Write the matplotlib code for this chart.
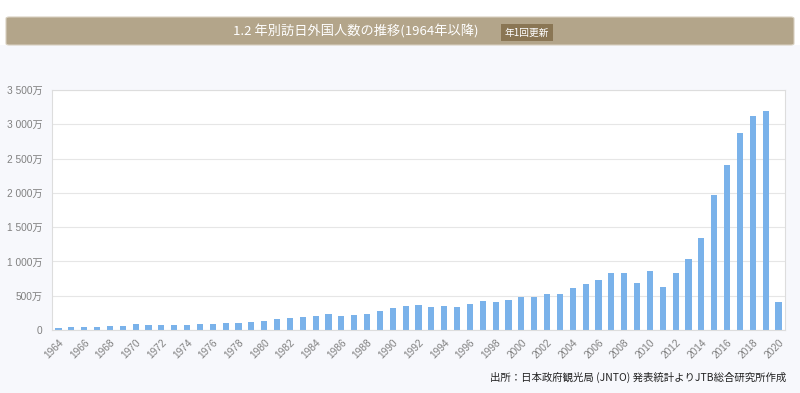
import matplotlib.pyplot as plt
from matplotlib.patches import FancyBboxPatch, Rectangle
from matplotlib.ticker import FuncFormatter, MultipleLocator

plt.rcParams['font.family'] = ['Noto Sans CJK JP', 'DejaVu Sans']

# visitor arrivals to Japan, in 万人
years = list(range(1964, 2021))
visitors = [35.3, 36.7, 43.3, 47.7, 51.9, 60.9, 85.4, 66.0, 72.4, 78.5,
            76.4, 81.2, 91.5, 102.8, 103.9, 111.3, 131.7, 158.3, 179.3, 196.8,
            211.0, 232.7, 206.2, 215.5, 235.5, 283.5, 323.6, 353.3, 358.2, 341.0,
            346.8, 334.5, 383.7, 421.8, 410.6, 443.8, 475.7, 477.2, 523.9, 521.2,
            613.8, 672.8, 733.4, 834.7, 835.1, 679.0, 861.1, 621.9, 836.8, 1036.4,
            1341.3, 1973.7, 2404.0, 2869.1, 3119.2, 3188.2, 411.6]

title = '1.2 年別訪日外国人数の推移(1964年以降)'
badge = '年1回更新'
source = '出所：日本政府観光局 (JNTO) 発表統計よりJTB総合研究所作成'

W, H = 800, 393
fig = plt.figure(figsize=(8, 3.93), dpi=100, facecolor='#f7f8fc')

def fx(px):
    return px / W

def fy(py):
    return 1 - py / H

# white strip above the header
fig.patches.append(Rectangle((0, fy(45)), 1, 45 / H, transform=fig.transFigure,
                             facecolor='white', edgecolor='none', zorder=0))
# header bar
fig.patches.append(FancyBboxPatch((fx(6), fy(45)), fx(788), 28 / H,
                                  boxstyle='round,pad=0,rounding_size=0.004',
                                  transform=fig.transFigure, facecolor='#b3a58a',
                                  edgecolor='#d8d0c0', linewidth=0.8, zorder=1))
fig.text(fx(356), fy(31.5), title, color='white', fontsize=9.5,
         ha='center', va='center', zorder=3)
fig.text(fx(527), fy(32.5), badge, color='white', fontsize=7,
         ha='center', va='center', zorder=3,
         bbox=dict(boxstyle='square,pad=0.4', facecolor='#8a7654', edgecolor='none'))

ax = fig.add_axes([fx(52), fy(330), fx(785) - fx(52), (330 - 90) / H])
ax.set_facecolor('white')
ax.bar(years, visitors, width=0.48, color='#7ab2ea', zorder=2)

ax.set_xlim(1963.5, 2020.5)
ax.set_ylim(0, 3500)
ax.yaxis.set_major_locator(MultipleLocator(500))


def yfmt(v, pos):
    if v == 0:
        return '0'
    return f'{int(v):,}万'.replace(',', ' ')


ax.yaxis.set_major_formatter(FuncFormatter(yfmt))
ax.grid(axis='y', color='#e6e6e6', linewidth=0.8, zorder=0)
ax.set_xticks(years[::2])
ax.set_xticklabels([str(y) for y in years[::2]], rotation=45, ha='right',
                   rotation_mode='anchor')
ax.tick_params(axis='both', length=0, labelsize=7.3, labelcolor='#808080',
               labelfontfamily=['Liberation Sans', 'Noto Sans CJK JP'])
ax.tick_params(axis='x', pad=5)
ax.tick_params(axis='y', pad=7)
for s in ax.spines.values():
    s.set_color('#dddddd')
    s.set_linewidth(0.8)

fig.text(fx(786), fy(377), source, color='#222222', fontsize=7.5,
         ha='right', va='center')

fig.savefig('out.png', dpi=100, facecolor=fig.get_facecolor())
